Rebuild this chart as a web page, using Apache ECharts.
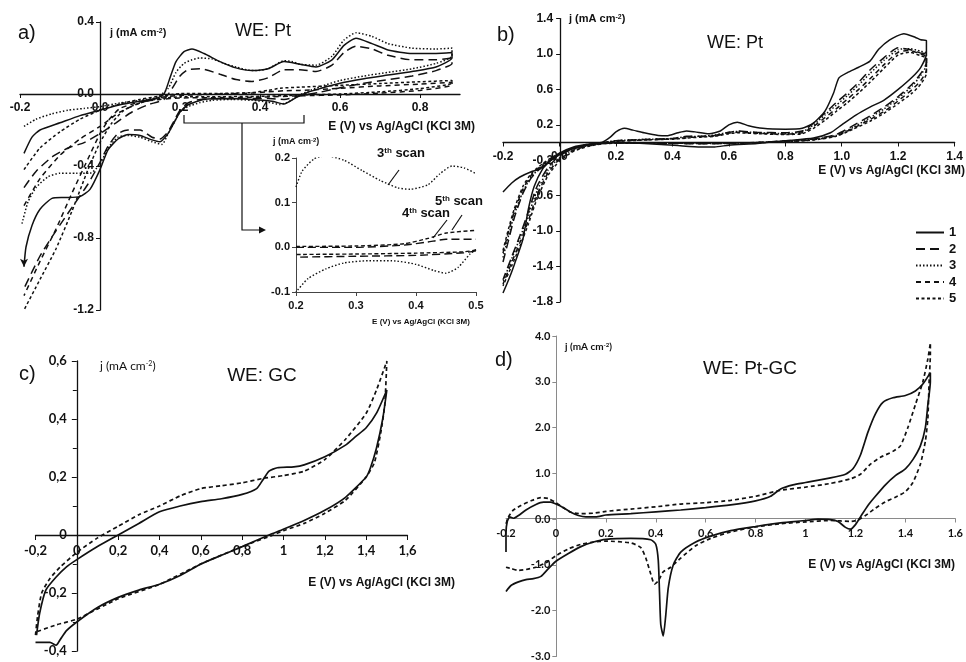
<!DOCTYPE html>
<html>
<head>
<meta charset="utf-8">
<script src="https://cdn.jsdelivr.net/npm/echarts@6/dist/echarts.min.js"></script>
<style>
  html, body { margin: 0; padding: 0; background: #fff; }
  #chart { width: 966px; height: 662px; }
</style>
</head>
<body>
<div id="chart"></div>
<script>
// ---------- a) WE: Pt, scans 1-5 (E in V, j in mA cm-2) ----------
const a_scan1 = [[-0.19,-0.33],[-0.17,-0.24],[-0.15,-0.2],[-0.1,-0.16],[-0.05,-0.12],[0,-0.09],[0.05,-0.06],[0.1,-0.04],[0.14,-0.025],[0.16,0.0],[0.175,0.09],[0.19,0.18],[0.21,0.235],[0.23,0.25],[0.26,0.225],[0.3,0.18],[0.34,0.145],[0.38,0.13],[0.42,0.14],[0.46,0.18],[0.5,0.165],[0.54,0.15],[0.58,0.19],[0.61,0.27],[0.64,0.31],[0.68,0.28],[0.72,0.245],[0.78,0.225],[0.84,0.225],[0.88,0.23],
  [0.88,0.2],[0.84,0.15],[0.78,0.125],[0.72,0.105],[0.66,0.085],[0.6,0.06],[0.55,0.03],[0.52,0.01],[0.49,-0.02],[0.46,-0.055],[0.43,-0.04],[0.38,-0.03],[0.32,-0.025],[0.26,-0.03],[0.22,-0.06],[0.2,-0.1],[0.185,-0.16],[0.17,-0.22],[0.15,-0.265],[0.13,-0.255],[0.1,-0.23],[0.07,-0.225],[0.045,-0.25],[0.02,-0.31],[0,-0.42],[-0.025,-0.53],[-0.05,-0.57],[-0.09,-0.575],[-0.12,-0.58],[-0.15,-0.64],[-0.17,-0.73],[-0.185,-0.85],[-0.19,-0.96]]
const a_scan2 = [[-0.19,-0.52],[-0.16,-0.43],[-0.12,-0.35],[-0.08,-0.3],[-0.04,-0.27],[0,-0.22],[0.04,-0.16],[0.08,-0.1],[0.12,-0.06],[0.16,-0.03],[0.18,0.03],[0.2,0.1],[0.22,0.135],[0.25,0.14],[0.3,0.11],[0.34,0.08],[0.38,0.07],[0.42,0.09],[0.46,0.135],[0.5,0.135],[0.54,0.125],[0.58,0.16],[0.61,0.23],[0.64,0.265],[0.68,0.25],[0.72,0.215],[0.78,0.19],[0.84,0.19],[0.88,0.2],
  [0.88,0.17],[0.84,0.13],[0.78,0.1],[0.72,0.08],[0.66,0.06],[0.6,0.035],[0.55,0.01],[0.5,-0.01],[0.46,-0.03],[0.42,-0.025],[0.36,-0.025],[0.3,-0.025],[0.25,-0.03],[0.22,-0.05],[0.2,-0.09],[0.185,-0.15],[0.17,-0.21],[0.15,-0.25],[0.13,-0.24],[0.1,-0.2],[0.07,-0.2],[0.045,-0.22],[0.02,-0.29],[0,-0.38],[-0.03,-0.5],[-0.07,-0.63],[-0.11,-0.76],[-0.15,-0.9],[-0.19,-1.08]]
const a_scan3 = [[-0.19,-0.18],[-0.16,-0.14],[-0.12,-0.11],[-0.08,-0.09],[-0.04,-0.08],[0,-0.07],[0.05,-0.05],[0.1,-0.035],[0.14,-0.02],[0.17,0.03],[0.19,0.12],[0.21,0.17],[0.23,0.19],[0.25,0.2],[0.28,0.195],[0.31,0.17],[0.34,0.15],[0.37,0.133],[0.39,0.13],[0.42,0.14],[0.44,0.165],[0.46,0.185],[0.48,0.18],[0.5,0.165],[0.54,0.16],[0.58,0.21],[0.61,0.3],[0.64,0.34],[0.68,0.32],[0.72,0.28],[0.78,0.255],[0.84,0.25],[0.88,0.255],
  [0.88,0.21],[0.84,0.17],[0.78,0.14],[0.72,0.12],[0.66,0.1],[0.6,0.075],[0.55,0.04],[0.52,0.015],[0.5,-0.005],[0.47,-0.045],[0.45,-0.058],[0.42,-0.045],[0.38,-0.035],[0.33,-0.03],[0.28,-0.035],[0.25,-0.048],[0.22,-0.07],[0.2,-0.1],[0.185,-0.16],[0.17,-0.22],[0.155,-0.28],[0.13,-0.265],[0.1,-0.24],[0.07,-0.23],[0.045,-0.24],[0.02,-0.3],[0,-0.39],[-0.025,-0.44],[-0.06,-0.44],[-0.1,-0.44],[-0.13,-0.46],[-0.16,-0.52],[-0.18,-0.6],[-0.195,-0.72]]
const a_scan4 = [[-0.19,-0.62],[-0.15,-0.47],[-0.1,-0.34],[-0.05,-0.25],[0,-0.18],[0.05,-0.1],[0.1,-0.05],[0.15,-0.02],[0.2,-0.008],[0.3,0.0],[0.38,0.005],[0.42,0.012],[0.46,0.018],[0.5,0.02],[0.6,0.032],[0.7,0.045],[0.8,0.055],[0.88,0.065],
  [0.88,0.05],[0.8,0.02],[0.7,0.005],[0.6,-0.005],[0.5,-0.01],[0.4,-0.018],[0.3,-0.02],[0.2,-0.022],[0.15,-0.03],[0.1,-0.045],[0.05,-0.08],[0.02,-0.15],[0,-0.22],[-0.03,-0.36],[-0.07,-0.55],[-0.11,-0.75],[-0.15,-0.93],[-0.19,-1.12]]
const a_scan5 = [[-0.19,-0.42],[-0.15,-0.3],[-0.1,-0.21],[-0.05,-0.14],[0,-0.09],[0.05,-0.055],[0.1,-0.03],[0.15,-0.012],[0.2,0.002],[0.3,0.003],[0.38,0.008],[0.42,0.02],[0.45,0.032],[0.5,0.038],[0.6,0.048],[0.7,0.058],[0.8,0.068],[0.88,0.075],
  [0.88,0.06],[0.8,0.03],[0.7,0.012],[0.6,0.0],[0.5,-0.006],[0.4,-0.013],[0.3,-0.015],[0.2,-0.016],[0.15,-0.025],[0.1,-0.05],[0.06,-0.09],[0.03,-0.16],[0,-0.27],[-0.03,-0.42],[-0.07,-0.65],[-0.11,-0.86],[-0.15,-1.03],[-0.19,-1.2]]

// inset of a) : 0.2 - 0.5 V zoom of scans 3, 4, 5
const inset_scan3 = [[0.2,0.135],[0.21,0.17],[0.23,0.198],[0.25,0.205],[0.28,0.195],[0.31,0.172],[0.34,0.15],[0.37,0.133],[0.39,0.13],[0.42,0.14],[0.44,0.165],[0.46,0.182],[0.48,0.178],[0.5,0.165]]
const inset_scan3_back = [[0.5,-0.005],[0.49,-0.015],[0.47,-0.045],[0.45,-0.058],[0.43,-0.052],[0.4,-0.038],[0.36,-0.03],[0.32,-0.03],[0.28,-0.035],[0.25,-0.048],[0.22,-0.07],[0.2,-0.1]]
const inset_scan4 = [[0.2,0.0],[0.3,0.0],[0.38,0.005],[0.42,0.012],[0.45,0.018],[0.5,0.018]]
const inset_scan4_back = [[0.5,-0.008],[0.48,-0.012],[0.4,-0.018],[0.3,-0.02],[0.2,-0.022]]
const inset_scan5 = [[0.2,0.002],[0.3,0.003],[0.38,0.008],[0.42,0.02],[0.45,0.032],[0.5,0.038]]
const inset_scan5_back = [[0.5,-0.006],[0.48,-0.01],[0.4,-0.013],[0.3,-0.015],[0.2,-0.016]]

// ---------- b) WE: Pt, scans 1-5 ----------
const b_scan1 = [[-0.2,-0.56],[-0.17,-0.46],[-0.14,-0.39],[-0.1,-0.33],[-0.07,-0.3],[-0.03,-0.2],[0.0,-0.14],[0.03,-0.09],[0.06,-0.06],[0.1,-0.03],[0.15,0.0],[0.18,0.06],[0.2,0.12],[0.23,0.16],[0.26,0.14],[0.3,0.11],[0.35,0.08],[0.38,0.075],[0.42,0.11],[0.45,0.13],[0.48,0.12],[0.53,0.1],[0.57,0.13],[0.6,0.2],[0.63,0.23],[0.67,0.19],[0.72,0.16],[0.8,0.15],[0.86,0.16],[0.9,0.22],[0.94,0.35],[0.97,0.55],[0.99,0.73],[1.02,0.79],[1.06,0.85],[1.1,0.92],[1.13,1.05],[1.17,1.16],[1.22,1.23],[1.26,1.19],[1.28,1.16],[1.3,1.15],
  [1.3,1.0],[1.28,0.85],[1.25,0.74],[1.2,0.6],[1.15,0.48],[1.1,0.4],[1.05,0.31],[1.0,0.2],[0.96,0.11],[0.9,0.05],[0.8,0.02],[0.7,-0.01],[0.6,-0.03],[0.55,-0.05],[0.5,-0.05],[0.42,-0.035],[0.3,-0.01],[0.2,0.0],[0.15,-0.005],[0.1,-0.02],[0.05,-0.05],[0,-0.12],[-0.03,-0.2],[-0.06,-0.3],[-0.09,-0.5],[-0.11,-0.75],[-0.13,-1.1],[-0.16,-1.38],[-0.18,-1.55],[-0.2,-1.7]]
const b_scan2 = [[-0.2,-1.35],[-0.18,-1.1],[-0.16,-0.85],[-0.13,-0.58],[-0.1,-0.4],[-0.06,-0.27],[-0.02,-0.18],[0.02,-0.11],[0.06,-0.06],[0.1,-0.03],[0.15,-0.005],[0.2,0.02],[0.3,0.035],[0.4,0.045],[0.45,0.07],[0.5,0.07],[0.55,0.08],[0.6,0.115],[0.63,0.13],[0.7,0.115],[0.8,0.11],[0.86,0.13],[0.9,0.22],[0.94,0.33],[0.98,0.45],[1.02,0.56],[1.06,0.68],[1.1,0.82],[1.15,0.96],[1.2,1.07],[1.24,1.05],[1.28,1.01],[1.3,1.0],
  [1.3,0.9],[1.28,0.78],[1.25,0.66],[1.2,0.52],[1.15,0.4],[1.1,0.3],[1.04,0.19],[0.98,0.09],[0.9,0.04],[0.8,0.02],[0.7,0.0],[0.6,-0.01],[0.5,-0.015],[0.4,-0.01],[0.3,-0.005],[0.2,-0.005],[0.15,-0.01],[0.1,-0.03],[0.05,-0.07],[0,-0.15],[-0.04,-0.28],[-0.08,-0.5],[-0.11,-0.78],[-0.14,-1.05],[-0.17,-1.3],[-0.2,-1.55]]
const b_scan3 = [[-0.2,-1.3],[-0.18,-1.05],[-0.16,-0.82],[-0.13,-0.56],[-0.1,-0.39],[-0.06,-0.26],[-0.02,-0.17],[0.02,-0.1],[0.06,-0.055],[0.1,-0.025],[0.15,0.0],[0.2,0.02],[0.3,0.035],[0.4,0.045],[0.45,0.065],[0.5,0.07],[0.55,0.085],[0.6,0.115],[0.63,0.125],[0.7,0.11],[0.8,0.1],[0.86,0.12],[0.9,0.2],[0.94,0.31],[0.98,0.42],[1.02,0.53],[1.06,0.65],[1.1,0.78],[1.15,0.93],[1.2,1.05],[1.24,1.06],[1.28,1.03],[1.3,1.01],
  [1.3,0.88],[1.28,0.76],[1.25,0.64],[1.2,0.5],[1.15,0.38],[1.1,0.28],[1.04,0.17],[0.98,0.08],[0.9,0.035],[0.8,0.015],[0.7,0.0],[0.6,-0.01],[0.5,-0.012],[0.4,-0.008],[0.3,-0.005],[0.2,-0.005],[0.15,-0.012],[0.1,-0.035],[0.05,-0.08],[0,-0.17],[-0.04,-0.31],[-0.08,-0.55],[-0.11,-0.82],[-0.14,-1.08],[-0.17,-1.32],[-0.2,-1.58]]
const b_scan4 = [[-0.2,-1.25],[-0.18,-1.0],[-0.16,-0.78],[-0.13,-0.53],[-0.1,-0.37],[-0.06,-0.25],[-0.02,-0.16],[0.02,-0.1],[0.06,-0.055],[0.1,-0.025],[0.15,-0.005],[0.2,0.015],[0.3,0.03],[0.4,0.04],[0.45,0.055],[0.5,0.065],[0.55,0.075],[0.6,0.105],[0.63,0.115],[0.7,0.105],[0.8,0.095],[0.86,0.11],[0.9,0.18],[0.94,0.28],[0.98,0.38],[1.02,0.49],[1.06,0.6],[1.1,0.72],[1.15,0.88],[1.2,1.02],[1.24,1.04],[1.28,1.0],[1.3,0.97],
  [1.3,0.82],[1.28,0.7],[1.25,0.6],[1.2,0.47],[1.15,0.35],[1.1,0.26],[1.04,0.16],[0.98,0.075],[0.9,0.03],[0.8,0.01],[0.7,0.0],[0.6,-0.008],[0.5,-0.01],[0.4,-0.008],[0.3,-0.005],[0.2,-0.006],[0.15,-0.015],[0.1,-0.04],[0.05,-0.09],[0,-0.19],[-0.04,-0.34],[-0.08,-0.6],[-0.11,-0.88],[-0.14,-1.13],[-0.17,-1.36],[-0.2,-1.6]]
const b_scan5 = [[-0.2,-1.22],[-0.18,-0.97],[-0.16,-0.75],[-0.13,-0.5],[-0.1,-0.35],[-0.06,-0.24],[-0.02,-0.155],[0.02,-0.095],[0.06,-0.05],[0.1,-0.022],[0.15,-0.004],[0.2,0.012],[0.3,0.028],[0.4,0.038],[0.45,0.05],[0.5,0.06],[0.55,0.07],[0.6,0.1],[0.63,0.11],[0.7,0.1],[0.8,0.09],[0.86,0.1],[0.9,0.16],[0.94,0.25],[0.98,0.35],[1.02,0.45],[1.06,0.56],[1.1,0.68],[1.15,0.84],[1.2,0.99],[1.24,1.02],[1.28,0.98],[1.3,0.95],
  [1.3,0.78],[1.28,0.66],[1.25,0.56],[1.2,0.44],[1.15,0.33],[1.1,0.24],[1.04,0.15],[0.98,0.07],[0.9,0.028],[0.8,0.008],[0.7,-0.002],[0.6,-0.008],[0.5,-0.01],[0.4,-0.008],[0.3,-0.006],[0.2,-0.007],[0.15,-0.017],[0.1,-0.045],[0.05,-0.1],[0,-0.21],[-0.04,-0.37],[-0.08,-0.64],[-0.11,-0.92],[-0.14,-1.17],[-0.17,-1.4],[-0.2,-1.62]]

// ---------- c) WE: GC ----------
const c_solid = [[-0.195,-0.345],[-0.18,-0.27],[-0.15,-0.19],[-0.1,-0.145],[-0.05,-0.11],[0,-0.085],[0.1,-0.04],[0.2,0.0],[0.3,0.04],[0.4,0.08],[0.5,0.1],[0.6,0.115],[0.7,0.125],[0.8,0.14],[0.87,0.16],[0.9,0.19],[0.93,0.22],[0.97,0.232],[1.05,0.235],[1.1,0.242],[1.2,0.27],[1.3,0.31],[1.35,0.34],[1.4,0.37],[1.45,0.42],[1.5,0.5],
  [1.48,0.4],[1.45,0.3],[1.42,0.23],[1.4,0.2],[1.3,0.13],[1.2,0.085],[1.1,0.05],[1.0,0.02],[0.93,0.0],[0.8,-0.04],[0.7,-0.07],[0.6,-0.1],[0.5,-0.14],[0.4,-0.17],[0.3,-0.19],[0.2,-0.215],[0.1,-0.25],[0,-0.3],[-0.05,-0.33],[-0.08,-0.36],[-0.1,-0.38],[-0.13,-0.37],[-0.2,-0.37]]
const c_dashed = [[-0.2,-0.345],[-0.19,-0.28],[-0.17,-0.2],[-0.13,-0.15],[-0.08,-0.11],[0,-0.06],[0.1,-0.01],[0.2,0.03],[0.3,0.07],[0.4,0.1],[0.5,0.135],[0.6,0.16],[0.7,0.17],[0.8,0.18],[0.9,0.195],[1.0,0.205],[1.1,0.22],[1.2,0.26],[1.3,0.33],[1.4,0.42],[1.45,0.5],[1.5,0.6],
  [1.49,0.45],[1.47,0.35],[1.44,0.25],[1.4,0.2],[1.3,0.12],[1.2,0.075],[1.1,0.04],[1.0,0.015],[0.95,0.0],[0.8,-0.04],[0.6,-0.1],[0.4,-0.17],[0.2,-0.22],[0,-0.29],[-0.1,-0.31],[-0.2,-0.335]]

// ---------- d) WE: Pt-GC ----------
const d_solid = [[-0.2,-0.72],[-0.2,-0.3],[-0.195,-0.05],[-0.185,0.05],[-0.17,0.02],[-0.15,0.08],[-0.12,0.2],[-0.08,0.32],[-0.05,0.37],[-0.02,0.37],[0.0,0.33],[0.03,0.25],[0.06,0.15],[0.09,0.08],[0.12,0.05],[0.16,0.05],[0.2,0.09],[0.3,0.12],[0.4,0.16],[0.5,0.2],[0.6,0.25],[0.7,0.31],[0.8,0.4],[0.86,0.5],[0.9,0.66],[0.95,0.75],[1.0,0.8],[1.1,0.9],[1.16,0.98],[1.19,1.1],[1.22,1.4],[1.25,1.9],[1.28,2.3],[1.31,2.55],[1.35,2.65],[1.4,2.7],[1.44,2.8],[1.47,2.95],[1.5,3.2],
  [1.5,3.0],[1.49,2.5],[1.48,2.0],[1.46,1.6],[1.43,1.3],[1.4,1.1],[1.36,0.95],[1.32,0.75],[1.28,0.5],[1.25,0.3],[1.22,0.05],[1.2,-0.12],[1.18,-0.22],[1.16,-0.18],[1.13,-0.05],[1.1,-0.01],[1.05,0.0],[1.0,-0.03],[0.9,-0.08],[0.8,-0.16],[0.7,-0.25],[0.62,-0.37],[0.56,-0.5],[0.5,-0.72],[0.47,-1.0],[0.45,-1.5],[0.44,-2.1],[0.43,-2.55],[0.42,-2.3],[0.415,-1.6],[0.41,-0.9],[0.4,-0.55],[0.38,-0.45],[0.3,-0.42],[0.2,-0.44],[0.15,-0.5],[0.1,-0.6],[0.05,-0.75],[0.0,-0.92],[-0.03,-1.08],[-0.06,-1.25],[-0.09,-1.3],[-0.12,-1.32],[-0.15,-1.37],[-0.18,-1.45],[-0.2,-1.58]]
const d_dashed = [[-0.2,-0.1],[-0.19,0.05],[-0.17,0.2],[-0.14,0.3],[-0.1,0.4],[-0.06,0.47],[-0.03,0.45],[0.0,0.36],[0.03,0.25],[0.06,0.15],[0.1,0.12],[0.15,0.13],[0.2,0.17],[0.3,0.22],[0.4,0.27],[0.5,0.33],[0.6,0.36],[0.7,0.41],[0.8,0.5],[0.9,0.63],[1.0,0.7],[1.1,0.78],[1.18,0.88],[1.22,0.98],[1.26,1.2],[1.3,1.35],[1.35,1.48],[1.38,1.6],[1.41,2.0],[1.44,2.5],[1.47,3.0],[1.49,3.5],[1.5,3.85],
  [1.5,3.6],[1.495,3.0],[1.49,2.2],[1.48,1.7],[1.46,1.2],[1.43,0.8],[1.4,0.6],[1.36,0.48],[1.32,0.38],[1.28,0.24],[1.24,0.08],[1.21,-0.02],[1.18,-0.05],[1.1,-0.03],[1.0,-0.06],[0.9,-0.1],[0.8,-0.17],[0.7,-0.28],[0.62,-0.42],[0.56,-0.58],[0.5,-0.85],[0.46,-1.05],[0.43,-1.15],[0.41,-1.35],[0.395,-1.42],[0.38,-1.2],[0.36,-0.85],[0.34,-0.62],[0.3,-0.52],[0.2,-0.48],[0.15,-0.5],[0.1,-0.55],[0.05,-0.65],[0.0,-0.8],[-0.04,-0.95],[-0.08,-1.05],[-0.12,-1.1],[-0.15,-1.12],[-0.18,-1.08],[-0.2,-1.05]]

const legend_names = ['1', '2', '3', '4', '5']
// line styles of the 5 scans : solid, long dash, dotted, dash, short dash
const scan_dash = ['solid', [9, 5], [1.5, 2], [5, 4], [3, 2.5]]

const INK = '#111'
const ARIAL = '"Liberation Sans", Arial, sans-serif'
const CALIBRI = 'Lato, "Open Sans", sans-serif'

// axis labels
const r1 = v => Math.round(v * 10) / 10
const fmtDot = v => r1(v).toFixed(1)
const fmtComma = v => (r1(v) === 0 ? '0' : String(r1(v)).replace('.', ','))
const fmtPlain = v => String(r1(v))

// grids : [left, top, width, height]
const grids = [
  [20, 22, 440, 288],      // a
  [296, 158, 180, 134],    // inset
  [503, 18.6, 457, 283.2], // b
  [35.5, 361, 372, 290],   // c
  [506, 336, 453, 322]     // d
]
// axis ranges per grid : [xmin, xmax, xstep, ymin, ymax, ystep]
const ranges = [
  [-0.2, 0.9, 0.2, -1.2, 0.4, 0.4],
  [0.2, 0.5, 0.1, -0.1, 0.2, 0.1],
  [-0.2, 1.4, 0.2, -1.8, 1.4, 0.4],
  [-0.2, 1.6, 0.2, -0.4, 0.6, 0.2],
  [-0.2, 1.6, 0.2, -3, 4, 1]
]

// axis crossing at zero : move the axis with a (negative) offset from the grid edge
function valAxis (gi, dim, fmt, o) {
  const r = ranges[gi]
  const g = grids[gi]
  const min = dim === 'x' ? r[0] : r[3]
  const max = dim === 'x' ? r[1] : r[4]
  const step = dim === 'x' ? r[2] : r[5]
  let offset = 0
  if (o.cross) {
    if (dim === 'x') offset = -((0 - r[3]) / (r[4] - r[3])) * g[3]
    else offset = -((0 - r[0]) / (r[1] - r[0])) * g[2]
  }
  return {
    type: 'value', gridIndex: gi, min: min, max: max, interval: step,
    position: dim === 'x' ? 'bottom' : 'left', offset: offset,
    axisLine: { show: true, onZero: false, lineStyle: { color: o.color || INK, width: o.lw || 1.3 } },
    axisTick: { show: true, length: o.tick || 4, lineStyle: { color: o.color || INK, width: 1 } },
    minorTick: { show: !!o.minor, splitNumber: 2, length: 4, lineStyle: { color: o.color || INK } },
    axisLabel: {
      formatter: fmt, color: INK, fontFamily: o.font || ARIAL, fontWeight: 'bold',
      fontSize: o.size || 12, margin: o.margin || 8, showMaxLabel: o.showMax !== false, showMinLabel: true,
      hideOverlap: false
    },
    splitLine: { show: false }
  }
}

function cv (name, gi, data, dash, lw) {
  return {
    name: name, type: 'line', xAxisIndex: gi, yAxisIndex: gi, data: data,
    symbol: 'none', smooth: 0.2, silent: true, color: INK,
    lineStyle: { color: INK, width: lw || 1.5, type: dash }
  }
}

function txt (x, y, text, size, o) {
  o = o || {}
  return {
    type: 'text', x: x, y: y, silent: true,
    style: {
      text: text, fill: INK, fontSize: size, fontFamily: o.font || ARIAL, fontWeight: o.weight || 'normal',
      align: o.align || 'left', verticalAlign: 'middle',
      rich: {
        s: { fontSize: Math.round(size * 0.62), fontFamily: o.font || ARIAL, fontWeight: o.weight || 'normal', fill: INK, verticalAlign: 'top' }
      }
    }
  }
}

const series = []
const aScans = [a_scan1, a_scan2, a_scan3, a_scan4, a_scan5]
aScans.forEach((d, i) => series.push(cv('a' + (i + 1), 0, d, scan_dash[i], 1.5)))
// arrow at the end of scan 1
series[0].markPoint = {
  silent: true, symbol: 'arrow', symbolSize: [6, 8], symbolRotate: 180,
  itemStyle: { color: INK }, label: { show: false },
  data: [{ coord: a_scan1[a_scan1.length - 1] }]
}
const insetSets = [[inset_scan3, inset_scan3_back, [1.5, 2]], [inset_scan4, inset_scan4_back, [8, 4]], [inset_scan5, inset_scan5_back, [4, 2.5]]]
insetSets.forEach(s => {
  series.push(cv('i', 1, s[0], s[2], 1.4))
  series.push(cv('i', 1, s[1], s[2], 1.4))
})
const bScans = [b_scan1, b_scan2, b_scan3, b_scan4, b_scan5]
bScans.forEach((d, i) => series.push(cv(legend_names[i], 2, d, scan_dash[i], 1.5)))
series.push(cv('c1', 3, c_solid, 'solid', 1.7))
series.push(cv('c2', 3, c_dashed, [4, 3], 1.7))
series.push(cv('d1', 4, d_solid, 'solid', 1.7))
series.push(cv('d2', 4, d_dashed, [4, 3], 1.7))

const option = {
  animation: false,
  backgroundColor: '#fff',
  grid: grids.map(g => ({ left: g[0], top: g[1], width: g[2], height: g[3] })),
  xAxis: [
    valAxis(0, 'x', fmtDot, { cross: true, showMax: false, margin: 8 }),
    valAxis(1, 'x', fmtDot, { size: 11, color: '#444', lw: 1, margin: 8 }),
    valAxis(2, 'x', fmtDot, { cross: true, margin: 8 }),
    valAxis(3, 'x', fmtComma, { cross: true, font: CALIBRI, size: 13, margin: 9, tick: 5 }),
    valAxis(4, 'x', fmtPlain, { cross: true, font: CALIBRI, size: 11, margin: 9, color: '#8a8a8a', lw: 1, tick: 4 })
  ],
  yAxis: [
    valAxis(0, 'y', fmtDot, { cross: true, margin: 6 }),
    valAxis(1, 'y', fmtDot, { size: 11, color: '#444', lw: 1, margin: 6 }),
    valAxis(2, 'y', fmtDot, { cross: true, margin: 7 }),
    valAxis(3, 'y', fmtComma, { cross: true, font: CALIBRI, size: 13, margin: 10, tick: 5, minor: true }),
    valAxis(4, 'y', fmtDot, { cross: true, font: CALIBRI, size: 11, margin: 6, color: '#8a8a8a', lw: 1, tick: 4 })
  ],
  legend: {
    data: legend_names, orient: 'vertical', left: 910, top: 221,
    itemWidth: 28, itemHeight: 12, itemGap: 3.5, selectedMode: false,
    itemStyle: { color: 'rgba(0,0,0,0)', borderWidth: 0, opacity: 0 },
    textStyle: { fontFamily: ARIAL, fontWeight: 'bold', fontSize: 13, color: INK, lineHeight: 13 }
  },
  series: series,
  graphic: [
    // a)
    txt(18, 33, 'a)', 20),
    txt(110, 33, 'j (mA cm{s|-2})', 11, { weight: 'bold' }),
    txt(263, 31, 'WE: Pt', 18, { align: 'center' }),
    txt(475, 127, 'E (V) vs Ag/AgCl (KCl 3M)', 12, { weight: 'bold', align: 'right' }),
    txt(273, 142, 'j (mA cm{s|-2})', 9, { weight: 'bold' }),
    txt(377, 153, '3{s|th} scan', 13, { weight: 'bold' }),
    txt(435, 201, '5{s|th} scan', 13, { weight: 'bold' }),
    txt(402, 213, '4{s|th} scan', 13, { weight: 'bold' }),
    txt(421, 322, 'E (V) vs Ag/AgCl (KCl 3M)', 8, { weight: 'bold', align: 'center' }),
    { type: 'polyline', silent: true, shape: { points: [[184, 115], [184, 123], [304, 123], [304, 115]] }, style: { stroke: INK, lineWidth: 1.2, fill: null } },
    { type: 'polyline', silent: true, shape: { points: [[242, 123], [242, 230], [261, 230]] }, style: { stroke: INK, lineWidth: 1.2, fill: null } },
    { type: 'polygon', silent: true, shape: { points: [[266, 230], [259, 226.5], [259, 233.5]] }, style: { fill: INK } },
    { type: 'line', silent: true, shape: { x1: 399, y1: 170, x2: 388, y2: 185 }, style: { stroke: INK, lineWidth: 1.2 } },
    { type: 'line', silent: true, shape: { x1: 447, y1: 220, x2: 433, y2: 238 }, style: { stroke: INK, lineWidth: 1.2 } },
    { type: 'line', silent: true, shape: { x1: 462, y1: 215, x2: 452, y2: 230 }, style: { stroke: INK, lineWidth: 1.2 } },
    // b)
    txt(497, 35, 'b)', 20),
    txt(569, 19, 'j (mA cm{s|-2})', 11, { weight: 'bold' }),
    txt(735, 43, 'WE: Pt', 18, { align: 'center' }),
    txt(965, 171, 'E (V) vs Ag/AgCl (KCl 3M)', 12, { weight: 'bold', align: 'right' }),
    // c)
    txt(19, 374, 'c)', 20),
    txt(100, 366, 'j (mA cm{s|-2})', 12, { font: CALIBRI }),
    txt(262, 376, 'WE: GC', 19, { align: 'center' }),
    txt(455, 583, 'E (V) vs Ag/AgCl (KCl 3M)', 12, { weight: 'bold', align: 'right' }),
    // d)
    txt(495, 360, 'd)', 20),
    txt(565, 347, 'j (mA cm{s|-2})', 10, { font: CALIBRI, weight: 'bold' }),
    txt(750, 369, 'WE: Pt-GC', 19, { align: 'center' }),
    txt(955, 565, 'E (V) vs Ag/AgCl (KCl 3M)', 12, { weight: 'bold', align: 'right' })
  ]
}

const myChart = echarts.init(document.getElementById('chart'))
option && myChart.setOption(option)
</script>
</body>
</html>
